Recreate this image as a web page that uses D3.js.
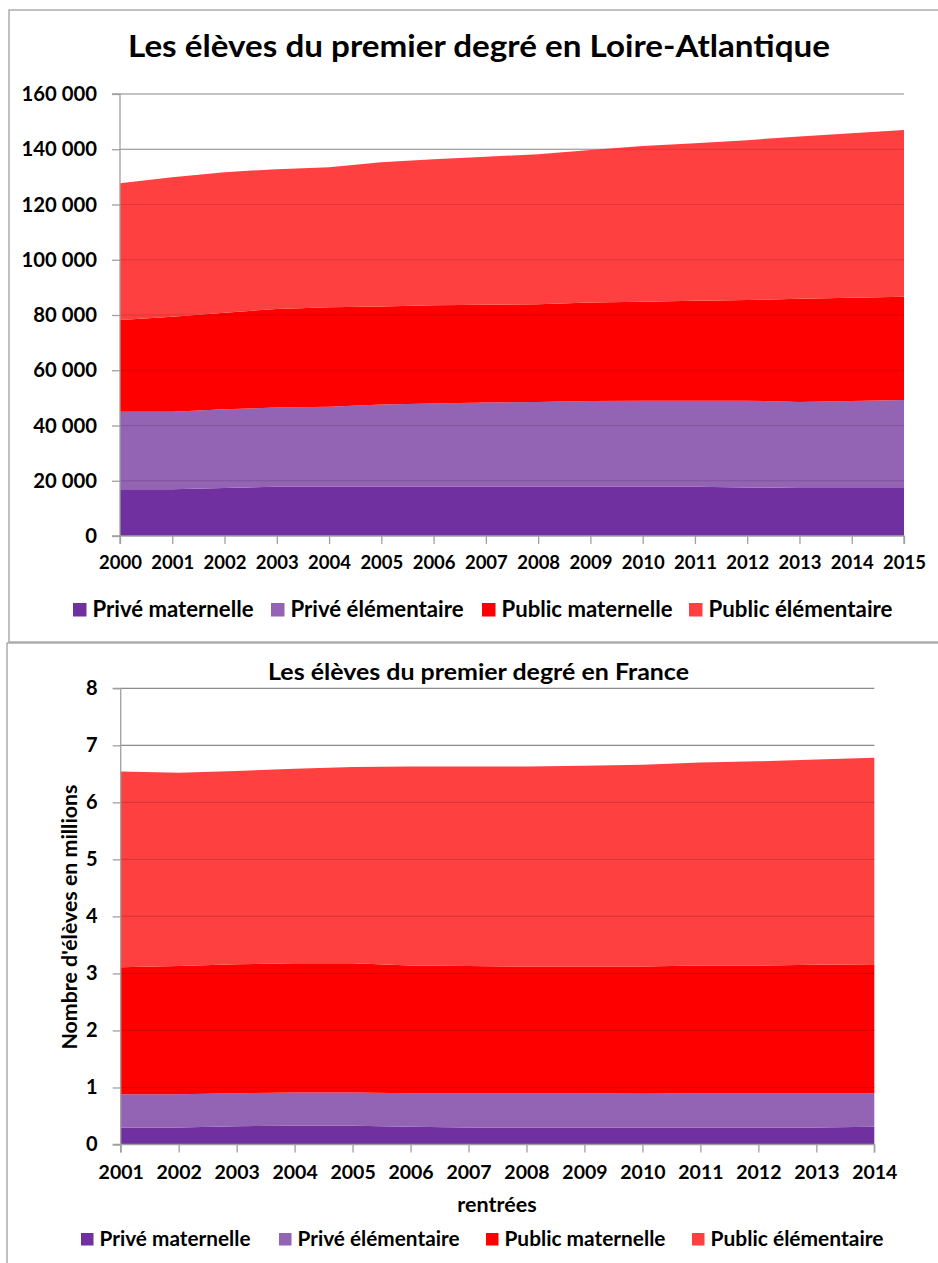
<!DOCTYPE html>
<html>
<head>
<meta charset="utf-8">
<script src="https://cdn.jsdelivr.net/npm/d3@7"></script>
<style>
  html, body { margin: 0; padding: 0; background: #fff; }
  svg { display: block; }
  text { font-family: Lato, "Open Sans", sans-serif; font-weight: bold; fill: #000; }
</style>
</head>
<body>
<svg id="chart" width="938" height="1263"></svg>
<script>
// ---------- DATA ----------
const seriesNames = ["Privé maternelle", "Privé élémentaire", "Public maternelle", "Public élémentaire"];
const seriesColors = ["#7030A0", "#9363B4", "#FF0000", "#FF4040"];

// Loire-Atlantique (élèves)
const yearsLA = [2000, 2001, 2002, 2003, 2004, 2005, 2006, 2007, 2008, 2009, 2010, 2011, 2012, 2013, 2014, 2015];
const priveMatLA  = [16900, 16900, 17400, 17800, 17800, 17800, 17800, 17800, 17800, 17800, 17800, 17800, 17600, 17400, 17400, 17400];
const priveElemLA = [28100, 28100, 28500, 28700, 29000, 29800, 30200, 30500, 30700, 31100, 31200, 31200, 31400, 31100, 31500, 31800];
const publicMatLA = [33200, 34400, 34900, 35700, 36000, 35500, 35500, 35400, 35400, 35600, 35800, 36200, 36400, 37400, 37300, 37400];
const publicElemLA = [49500, 50500, 50900, 50600, 50700, 52200, 52900, 53600, 54300, 55200, 56400, 57000, 57900, 58700, 59600, 60400];
const yTicksLA = [0, 20000, 40000, 60000, 80000, 100000, 120000, 140000, 160000];

// France (millions d'élèves)
const yearsFR = [2001, 2002, 2003, 2004, 2005, 2006, 2007, 2008, 2009, 2010, 2011, 2012, 2013, 2014];
const priveMatFR  = [0.30, 0.30, 0.32, 0.33, 0.33, 0.31, 0.30, 0.30, 0.30, 0.30, 0.30, 0.30, 0.30, 0.31];
const priveElemFR = [0.58, 0.58, 0.58, 0.58, 0.58, 0.59, 0.60, 0.60, 0.60, 0.59, 0.60, 0.60, 0.60, 0.59];
const publicMatFR = [2.23, 2.25, 2.26, 2.27, 2.27, 2.24, 2.23, 2.22, 2.22, 2.23, 2.24, 2.24, 2.25, 2.26];
const publicElemFR = [3.43, 3.39, 3.39, 3.41, 3.44, 3.49, 3.50, 3.51, 3.52, 3.54, 3.56, 3.58, 3.60, 3.62];
const yTicksFR = [0, 1, 2, 3, 4, 5, 6, 7, 8];

const titleLA = "Les élèves du premier degré en Loire-Atlantique";
const titleFR = "Les élèves du premier degré en France";
const yLabelFR = "Nombre d'élèves en millions";
const xLabelFR = "rentrées";

// ---------- DRAW ----------
const svg = d3.select("#chart");

function buildRows(years, cols) {
  return years.map((y, i) => {
    const r = { year: y };
    seriesNames.forEach((n, k) => r[n] = cols[k][i]);
    return r;
  });
}

function drawChart(cfg) {
  const g = svg.append("g");
  g.append("rect").attr("x", cfg.frame[0]).attr("y", cfg.frame[1])
    .attr("width", cfg.frame[2]).attr("height", cfg.frame[3])
    .attr("fill", "#fff").attr("stroke", "#a0a0a0").attr("stroke-width", 1.3);

  const rows = buildRows(cfg.years, cfg.cols);
  const x = d3.scaleLinear().domain(d3.extent(cfg.years)).range([cfg.left, cfg.right]);
  const y = d3.scaleLinear().domain([0, d3.max(cfg.yTicks)]).range([cfg.bottom, cfg.top]);

  g.append("g").selectAll("line").data(cfg.yTicks.filter(v => v > 0)).join("line")
    .attr("x1", cfg.left).attr("x2", cfg.right)
    .attr("y1", d => y(d)).attr("y2", d => y(d))
    .attr("stroke", "#a3a3a3").attr("stroke-width", 1.2);

  const layers = d3.stack().keys(seriesNames)(rows);
  const area = d3.area().x(d => x(d.data.year)).y0(d => y(d[0])).y1(d => y(d[1]));
  g.append("g").selectAll("path").data(layers).join("path")
    .attr("d", area).attr("fill", (d, i) => seriesColors[i]);

  g.append("g").selectAll("line").data(cfg.yTicks.filter(v => v > 0)).join("line")
    .attr("x1", cfg.left).attr("x2", cfg.right)
    .attr("y1", d => y(d)).attr("y2", d => y(d))
    .attr("stroke", "#000").attr("stroke-opacity", 0.14).attr("stroke-width", 1.2);

  const yAxis = d3.axisLeft(y).tickValues(cfg.yTicks).tickFormat(cfg.yFormat).tickSize(8).tickPadding(cfg.yPad);
  const ya = g.append("g").attr("transform", `translate(${cfg.left},0)`).call(yAxis);
  ya.select(".domain").attr("stroke", "#a0a0a0").attr("stroke-width", 1.3).attr("d", `M-8,${cfg.bottom}H0V${cfg.top}H-8`);
  ya.selectAll(".tick line").attr("stroke", "#a0a0a0").attr("stroke-width", 1.3);
  ya.selectAll(".tick text").style("font-size", cfg.yFont + "px").attr("fill", "#000").attr("font-family", null);

  const xAxis = d3.axisBottom(x).tickValues(cfg.years).tickFormat(d3.format("d")).tickSize(8).tickPadding(cfg.xPad);
  const xa = g.append("g").attr("transform", `translate(0,${cfg.bottom})`).call(xAxis);
  xa.select(".domain").attr("stroke", "#a0a0a0").attr("stroke-width", 1.3).attr("d", `M${cfg.left},8V0H${cfg.right}V8`);
  xa.selectAll(".tick line").attr("stroke", "#a0a0a0").attr("stroke-width", 1.3);
  xa.selectAll(".tick text").style("font-size", cfg.xFont + "px").attr("fill", "#000").attr("font-family", null);

  g.append("text").attr("x", cfg.titlePos[0]).attr("y", cfg.titlePos[1])
    .attr("text-anchor", "middle").style("font-size", cfg.titleFont + "px")
    .attr("textLength", cfg.titleLen).attr("lengthAdjust", "spacingAndGlyphs").text(cfg.title);

  if (cfg.yLabel) {
    g.append("text").attr("transform", `translate(${cfg.yLabelPos[0]},${cfg.yLabelPos[1]}) rotate(-90)`)
      .attr("text-anchor", "middle").style("font-size", cfg.yLabelFont + "px")
      .attr("textLength", cfg.yLabelLen).attr("lengthAdjust", "spacingAndGlyphs").text(cfg.yLabel);
  }
  if (cfg.xLabel) {
    g.append("text").attr("x", cfg.xLabelPos[0]).attr("y", cfg.xLabelPos[1])
      .attr("text-anchor", "middle").style("font-size", cfg.xLabelFont + "px").text(cfg.xLabel);
  }

  const lg = g.append("g");
  seriesNames.forEach((n, i) => {
    const lx = cfg.legendX[i];
    lg.append("rect").attr("x", lx).attr("y", cfg.legendY - cfg.legendBox)
      .attr("width", cfg.legendBox).attr("height", cfg.legendBox).attr("fill", seriesColors[i]);
    lg.append("text").attr("x", lx + cfg.legendBox + 6).attr("y", cfg.legendY)
      .style("font-size", cfg.legendFont + "px")
      .attr("textLength", cfg.legendLen[i]).attr("lengthAdjust", "spacingAndGlyphs").text(n);
  });
}

const spaceFmt = v => d3.format(",")(v).replace(/,/g, " ");

drawChart({
  frame: [9, 10, 1000, 632],
  years: yearsLA,
  cols: [priveMatLA, priveElemLA, publicMatLA, publicElemLA],
  yTicks: yTicksLA, yFormat: spaceFmt,
  left: 120, right: 904, top: 94, bottom: 536,
  yFont: 20.3, yPad: 15, xFont: 18.5, xPad: 12,
  title: titleLA, titlePos: [479, 57], titleFont: 31, titleLen: 702,
  legendX: [73, 271, 482, 689], legendY: 616.5, legendBox: 13.5, legendFont: 22,
  legendLen: [161, 173, 171, 184]
});

drawChart({
  frame: [7, 643, 1000, 700],
  years: yearsFR,
  cols: [priveMatFR, priveElemFR, publicMatFR, publicElemFR],
  yTicks: yTicksFR, yFormat: d3.format("d"),
  left: 120.7, right: 874.3, top: 688.3, bottom: 1144.5,
  yFont: 20, yPad: 15, xFont: 19.5, xPad: 12.5,
  title: titleFR, titlePos: [478.5, 680], titleFont: 23.5, titleLen: 421,
  yLabel: yLabelFR, yLabelPos: [77, 917], yLabelFont: 20.5, yLabelLen: 265,
  xLabel: xLabelFR, xLabelPos: [497, 1211.5], xLabelFont: 21.5,
  legendX: [81, 279, 486, 692], legendY: 1245.5, legendBox: 12.5, legendFont: 21,
  legendLen: [151, 162, 161, 173]
});
</script>
</body>
</html>
